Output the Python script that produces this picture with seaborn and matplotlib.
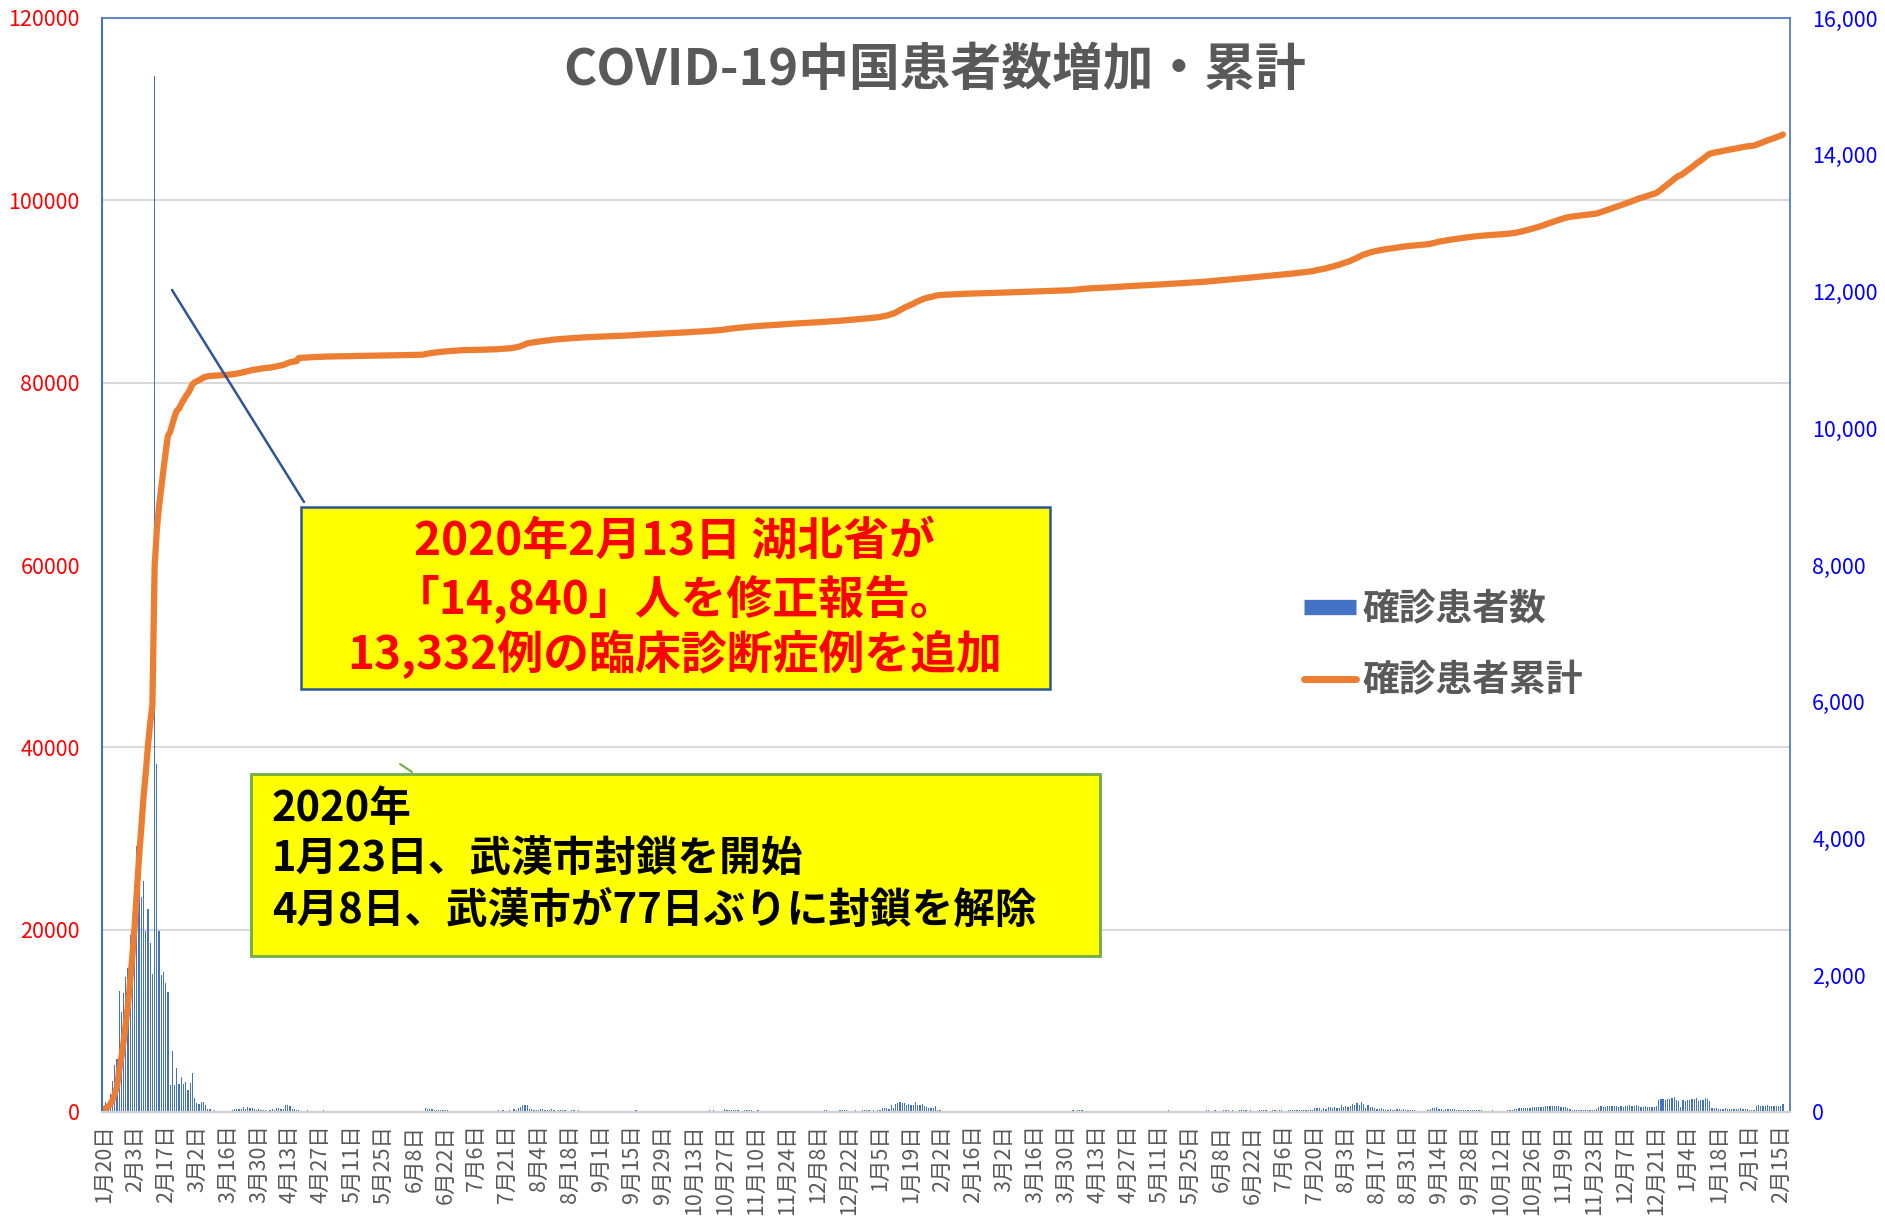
import numpy as np
import pandas as pd
import matplotlib
matplotlib.use("Agg")
import matplotlib.pyplot as plt
from matplotlib.patches import Rectangle
from matplotlib.lines import Line2D
import seaborn as sns

# ---------------- data (daily confirmed cases, China, from 2020-01-20) ----------------
d2020_01 = [77, 149, 131, 259, 457, 688, 769, 1771, 1459, 1737, 1981, 2099]
d2020_02 = [2589, 2825, 3233, 3886, 3694, 3143, 3385, 2652, 2973, 2467, 2015, 15151, 5090, 2641, 2008,
            2048, 1888, 1749, 391, 889, 397, 648, 409, 508, 406, 433, 327, 427, 573]
d2020_03 = [202, 125, 119, 139, 143, 99, 44, 40, 19, 24, 15, 8, 11, 20, 16, 21, 13, 34, 39, 41,
            46, 39, 78, 47, 67, 55, 54, 45, 31, 48, 36]
d2020_04 = [35, 31, 19, 30, 39, 32, 62, 63, 42, 46, 99, 108, 89, 46, 46, 26, 27, 16, 12, 11,
            30, 10, 10, 12, 11, 3, 6, 22, 4, 12]
d2020_05 = [12, 1, 2, 3, 1, 2, 2, 1, 1, 14, 17, 1, 3, 7, 4, 5, 7, 6, 5, 2, 4, 2, 3, 11, 7, 7, 2, 2, 4, 4, 1]
d2020_06 = [3, 5, 6, 2, 5, 5, 4, 3, 3, 11, 7, 11, 57, 49, 40, 44, 28, 32, 26, 27,
            26, 22, 22, 19, 13, 21, 17, 12, 19, 19]
d2020_07 = [3, 5, 4, 8, 8, 3, 7, 7, 2, 7, 16, 8, 3, 4, 11, 22, 16, 22, 11,
            14, 22, 21, 46, 34, 61, 68, 101, 105, 105, 45]
d2020_08 = [49, 30, 36, 27, 37, 37, 31, 23, 23, 49, 25, 19, 24, 22, 22, 22, 13, 11, 22, 22,
            9, 22, 13, 16, 15, 9, 9, 12, 17, 10, 11]
d2020_09 = [10, 11, 9, 10, 10, 8, 10, 11, 7, 9, 11, 13, 10, 10, 12, 14, 32, 14, 10, 14,
            11, 10, 12, 11, 13, 10, 14, 10, 7, 10]
d2020_10 = [20, 11, 12, 15, 11, 9, 18, 15, 13, 8, 21, 21, 14, 13, 13, 13, 13, 13, 16, 24,
            11, 28, 16, 15, 20, 20, 50, 35, 36, 26, 27]
d2020_11 = [35, 24, 21, 19, 23, 28, 26, 25, 16, 17, 22, 17, 14, 15, 8, 18, 14, 17, 16, 16,
            16, 21, 19, 14, 20, 21, 13, 11, 12, 17]
d2020_12 = [8, 13, 15, 17, 13, 16, 13, 11, 11, 21, 24, 23, 14, 11, 12, 13, 16, 23, 25, 28,
            23, 15, 19, 13, 24, 21, 18, 22, 24, 25, 25]
d2021_01 = [17, 33, 17, 33, 32, 53, 63, 53, 37, 103, 55, 115, 138, 144, 130, 130, 109, 118, 103, 103,
            144, 103, 107, 124, 82, 75, 54, 55, 53, 92, 33]
d2021_02 = [30, 18, 13, 12, 12, 11, 10, 14, 13, 14, 8, 14, 5, 8, 7, 6, 5, 8, 7, 6,
            9, 8, 9, 6, 10, 6, 6, 8]
d2021_03 = [9, 10, 11, 6, 10, 6, 11, 11, 8, 10, 8, 9, 6, 7, 7, 12, 6, 8, 12, 9,
            8, 5, 8, 10, 11, 9, 6, 5, 5, 9, 8]
d2021_04 = [18, 32, 15, 26, 32, 27, 20, 16, 21, 15, 11, 10, 14, 11, 15, 12, 14, 16, 12, 13,
            17, 14, 15, 12, 15, 20, 16, 13, 14, 18]
d2021_05 = [13, 10, 12, 10, 16, 12, 15, 10, 18, 12, 11, 17, 11, 14, 22, 13, 13, 16, 21, 12,
            15, 11, 13, 16, 19, 14, 12, 11, 16, 13, 17]
d2021_06 = [24, 26, 18, 21, 24, 17, 19, 21, 22, 24, 22, 19, 25, 20, 18, 30, 23, 26, 23, 19,
            22, 21, 21, 21, 23, 25, 33, 26, 20, 21]
d2021_07 = [22, 24, 19, 28, 23, 19, 21, 27, 24, 32, 23, 22, 33, 27, 31, 26, 28, 28, 31, 65,
            55, 56, 32, 55, 42, 76, 75, 54, 75, 61, 61]
d2021_08 = [98, 75, 90, 71, 85, 124, 96, 125, 108, 143, 111, 52, 104, 69, 69, 61, 47, 47, 62, 40,
            30, 32, 43, 28, 30, 46, 37, 29, 37, 36, 22]
d2021_09 = [27, 23, 29, 17, 21, 21, 21, 21, 24, 45, 59, 60, 68, 46, 49, 32, 47, 43, 43, 38,
            41, 34, 29, 34, 35, 31, 33, 26, 34, 33]
d2021_10 = [25, 24, 22, 21, 14, 15, 20, 23, 15, 13, 16, 20, 19, 17, 27, 26, 25, 38, 42, 52,
            55, 62, 58, 61, 65, 70, 68, 75, 72, 78, 80]
d2021_11 = [93, 88, 84, 84, 82, 81, 83, 78, 71, 74, 61, 48, 32, 30, 29, 29, 33, 28, 33, 31,
            25, 30, 25, 37, 77, 86, 79, 80, 82, 85]
d2021_12 = [84, 88, 92, 80, 88, 79, 90, 82, 96, 95, 88, 96, 92, 72, 75, 81, 78, 75, 80, 76,
            83, 176, 185, 192, 180, 195, 190, 205, 214, 178, 160]
d2022_01 = [73, 175, 168, 172, 180, 185, 190, 210, 165, 178, 170, 205, 190, 165, 60, 55, 52, 48, 45, 50,
            58, 46, 42, 40, 45, 48, 50, 52, 45, 40, 38]
d2022_02 = [22, 25, 28, 95, 98, 92, 90, 95, 96, 82, 90, 85, 95, 88, 92, 122]

# official revisions of the cumulative count (day index, amount)
revision_idx = [24, 32, 34, 88]
revision_val = [-1043, 426, -195, 325]
cum_start = 214

tick_labels = [
    "1月20日", "2月3日", "2月17日", "3月2日", "3月16日", "3月30日", "4月13日", "4月27日",
    "5月11日", "5月25日", "6月8日", "6月22日", "7月6日", "7月21日", "8月4日", "8月18日",
    "9月1日", "9月15日", "9月29日", "10月13日", "10月27日", "11月10日", "11月24日", "12月8日",
    "12月22日",
    "1月5日", "1月19日", "2月2日", "2月16日", "3月2日", "3月16日", "3月30日", "4月13日",
    "4月27日", "5月11日", "5月25日", "6月8日", "6月22日", "7月6日", "7月20日", "8月3日",
    "8月17日", "8月31日", "9月14日", "9月28日", "10月12日", "10月26日", "11月9日", "11月23日",
    "12月7日", "12月21日",
    "1月4日", "1月18日", "2月1日", "2月15日",
]
left_ticks = [0, 20000, 40000, 60000, 80000, 100000, 120000]
right_ticks = [0, 2000, 4000, 6000, 8000, 10000, 12000, 14000, 16000]

title = "COVID-19中国患者数増加・累計"
label_daily = "確診患者数"
label_cum = "確診患者累計"
note1 = ["2020年2月13日 湖北省が", "「14,840」人を修正報告。", "13,332例の臨床診断症例を追加"]
note2 = ["2020年", "1月23日、武漢市封鎖を開始", "4月8日、武漢市が77日ぶりに封鎖を解除"]

# ---------------- build series ----------------
months = [d2020_01, d2020_02, d2020_03, d2020_04, d2020_05, d2020_06, d2020_07, d2020_08,
          d2020_09, d2020_10, d2020_11, d2020_12, d2021_01, d2021_02, d2021_03, d2021_04,
          d2021_05, d2021_06, d2021_07, d2021_08, d2021_09, d2021_10, d2021_11, d2021_12,
          d2022_01, d2022_02]
daily = np.array([v for m in months for v in m], dtype=float)
n = len(daily)
idx = np.arange(n)
rev = np.zeros(n)
rev[revision_idx] = revision_val
cum = cum_start + np.cumsum(daily + rev)
df = pd.DataFrame({"day": idx, "daily": daily, "cum": cum})

# ---------------- style ----------------
sns.set_theme(style="white")
FONTS = ["Noto Sans CJK JP", "DejaVu Sans"]
plt.rcParams["font.family"] = FONTS

W, H = 1885, 1220
fig = plt.figure(figsize=(W / 100, H / 100), dpi=100)
fig.patch.set_facecolor("white")
L, R, T, B = 102, 1790, 18, 1112
ax = fig.add_axes([L / W, 1 - B / H, (R - L) / W, (B - T) / H])
ax2 = ax.twinx()
ax.set_zorder(ax2.get_zorder() + 1)
ax.patch.set_visible(False)

BLUE = "#4472C4"
ORANGE = "#ED7D31"
GREY = "#595959"

sns.barplot(data=df, x="day", y="daily", native_scale=True, orient="x", ax=ax2,
            color=BLUE, saturation=1, width=0.55, errorbar=None, linewidth=0)
sns.lineplot(data=df, x="day", y="cum", ax=ax, color=ORANGE, linewidth=4.5,
             estimator=None, solid_capstyle="round", solid_joinstyle="round")

ax.set_xlim(-0.72, 760.2)
ax.set_ylim(0, 120000)
ax2.set_ylim(0, 16000)
for a in (ax, ax2):
    a.set_xlabel("")
    a.set_ylabel("")

# grid (behind bars) at left-axis tick positions
ax2.set_yticks([16000 * k / 6 for k in range(1, 6)], minor=True)
ax2.grid(False, which="major")
ax2.grid(True, which="minor", axis="y", color="#D9D9D9", linewidth=1.5)
ax2.set_axisbelow(True)
ax.grid(False)

ax.set_yticks(left_ticks)
ax.set_yticklabels([str(v) for v in left_ticks])
ax2.set_yticks(right_ticks)
ax2.set_yticklabels([f"{v:,}" for v in right_ticks])
ax.tick_params(axis="y", which="both", length=0, pad=16, labelsize=15.5, labelcolor="#FF0000")
ax2.tick_params(axis="y", which="both", length=0, pad=16, labelsize=15.5, labelcolor="#0000FF")

ax.set_xticks(range(0, n, 14))
ax.set_xticklabels(tick_labels, rotation=90, ha="center", va="top")
ax.tick_params(axis="x", length=0, pad=9, labelsize=15.5, labelcolor=GREY)
ax2.xaxis.set_visible(False)

for s in ax2.spines.values():
    s.set_visible(False)
ax.spines["left"].set_color(BLUE)
ax.spines["left"].set_linewidth(1.5)
ax.spines["top"].set_color(BLUE)
ax.spines["top"].set_linewidth(1.2)
ax.spines["right"].set_color(BLUE)
ax.spines["right"].set_linewidth(1.2)
ax.spines["bottom"].set_color("#D0D0D8")
ax.spines["bottom"].set_linewidth(1.6)

# ---------------- overlay: title, notes ----------------
oax = fig.add_axes([0, 0, 1, 1], zorder=10)
oax.set_xlim(0, W)
oax.set_ylim(H, 0)
oax.axis("off")
oax.patch.set_visible(False)

oax.text(935, 70, title, fontsize=36.5, fontweight="bold", color=GREY,
         ha="center", va="center")

# callout lines
oax.plot([172, 304], [290, 502], color="#2F5597", linewidth=1.8)
oax.plot([400, 412], [764, 772], color="#70AD47", linewidth=1.5)

oax.add_patch(Rectangle((300.5, 507), 749, 182, facecolor="#FFFF00",
                        edgecolor="#2F5597", linewidth=1.8))
for t, y in zip(note1, [542, 599, 655]):
    oax.text(675, y, t, fontsize=33, fontweight="bold", color="#FF0000",
             ha="center", va="center")

oax.add_patch(Rectangle((251, 774), 849, 182, facecolor="#FFFF00",
                        edgecolor="#70AD47", linewidth=2))
for t, y in zip(note2, [809, 860, 911]):
    oax.text(272, y, t, fontsize=30, fontweight="bold", color="black",
             ha="left", va="center")

# legend
handles = [Line2D([], [], color=BLUE, linewidth=11, solid_capstyle="butt"),
           Line2D([], [], color=ORANGE, linewidth=5, solid_capstyle="round")]
fig.legend(handles=handles, labels=[label_daily, label_cum], loc="center left",
           bbox_to_anchor=(1304 / W, 1 - 645 / H), frameon=False,
           prop={"size": 26.5, "weight": "bold", "family": FONTS}, labelcolor=GREY,
           handlelength=1.4, handletextpad=0.2, labelspacing=0.95,
           borderpad=0, borderaxespad=0)

fig.savefig("out.png", dpi=100)
